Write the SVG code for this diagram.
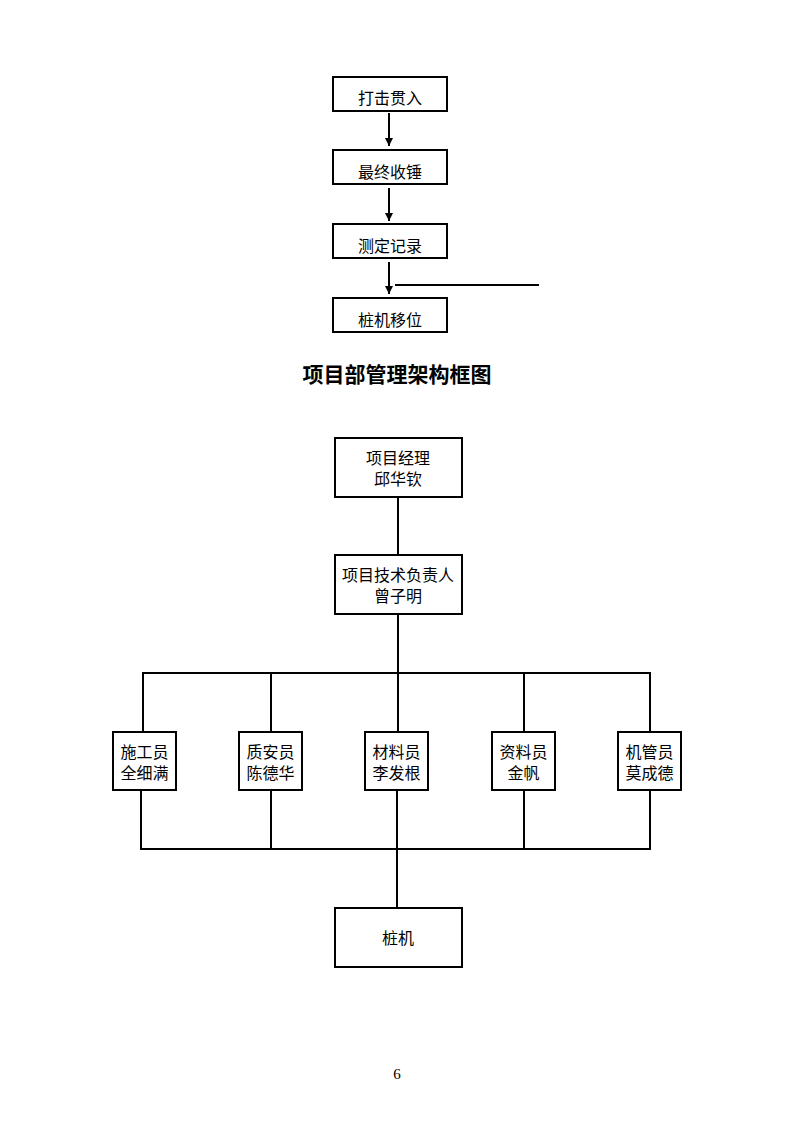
<svg xmlns="http://www.w3.org/2000/svg" width="793" height="1122" viewBox="0 0 793 1122">
<defs>
<style>
.box{fill:#fff;stroke:#000;stroke-width:2}
.ln{fill:none;stroke:#000;stroke-width:2}
.t{font-family:"Liberation Serif","Noto Sans CJK SC",serif;font-size:16px;fill:#000;text-anchor:middle}
.title{font-family:"Liberation Serif","Noto Sans CJK SC",serif;font-size:21px;font-weight:bold;fill:#000;text-anchor:middle}
</style>
<marker id="ah" viewBox="0 0 10 10" refX="10" refY="5" markerWidth="4" markerHeight="4" orient="auto" markerUnits="strokeWidth">
<path d="M0,0 L10,5 L0,10 z" fill="#000"/>
</marker>
</defs>
<rect width="793" height="1122" fill="#fff"/>
<g id="connectors">
<line class="ln" x1="389" y1="113" x2="389" y2="146" marker-end="url(#ah)"/>
<line class="ln" x1="389" y1="188" x2="389" y2="221" marker-end="url(#ah)"/>
<line class="ln" x1="389" y1="262" x2="389" y2="294" marker-end="url(#ah)"/>
<line class="ln" x1="395" y1="285" x2="539" y2="285"/>
<line class="ln" x1="398" y1="497" x2="398" y2="555"/>
<line class="ln" x1="398" y1="614" x2="398" y2="673"/>
<polyline class="ln" points="143,732 143,673 650,673 650,732"/>
<line class="ln" x1="271" y1="673" x2="271" y2="732"/>
<line class="ln" x1="398" y1="673" x2="398" y2="732"/>
<line class="ln" x1="524" y1="673" x2="524" y2="732"/>
<polyline class="ln" points="141,790 141,849 650,849 650,790"/>
<line class="ln" x1="271" y1="790" x2="271" y2="849"/>
<line class="ln" x1="397" y1="790" x2="397" y2="908"/>
<line class="ln" x1="524" y1="790" x2="524" y2="849"/>
</g>
<g id="n1"><rect class="box" x="333" y="77" width="114" height="34"/><text class="t" x="390" y="104">打击贯入</text></g>
<g id="n2"><rect class="box" x="333" y="150" width="114" height="34"/><text class="t" x="390" y="178">最终收锤</text></g>
<g id="n3"><rect class="box" x="333" y="224" width="114" height="34"/><text class="t" x="390" y="252">测定记录</text></g>
<g id="n4"><rect class="box" x="333" y="298" width="114" height="34"/><text class="t" x="390" y="326">桩机移位</text></g>
<text class="title" x="397" y="382">项目部管理架构框图</text>
<g id="pm"><rect class="box" x="335" y="438" width="127" height="59"/><text class="t" x="398" y="464">项目经理</text><text class="t" x="398" y="485">邱华钦</text></g>
<g id="tech"><rect class="box" x="335" y="555" width="127" height="59"/><text class="t" x="398" y="581">项目技术负责人</text><text class="t" x="398" y="602">曾子明</text></g>
<g id="s1"><rect class="box" x="113" y="732" width="63" height="58"/><text class="t" x="144.5" y="758">施工员</text><text class="t" x="144.5" y="779">全细满</text></g>
<g id="s2"><rect class="box" x="239" y="732" width="63" height="58"/><text class="t" x="270.5" y="758">质安员</text><text class="t" x="270.5" y="779">陈德华</text></g>
<g id="s3"><rect class="box" x="365" y="732" width="63" height="58"/><text class="t" x="396.5" y="758">材料员</text><text class="t" x="396.5" y="779">李发根</text></g>
<g id="s4"><rect class="box" x="492" y="732" width="63" height="58"/><text class="t" x="523.5" y="758">资料员</text><text class="t" x="523.5" y="779">金帆</text></g>
<g id="s5"><rect class="box" x="618" y="732" width="63" height="58"/><text class="t" x="649.5" y="758">机管员</text><text class="t" x="649.5" y="779">莫成德</text></g>
<g id="pile"><rect class="box" x="335" y="908" width="127" height="59"/><text class="t" x="398" y="944">桩机</text></g>
<text class="t" x="397" y="1079" style="font-size:15px">6</text>
</svg>
